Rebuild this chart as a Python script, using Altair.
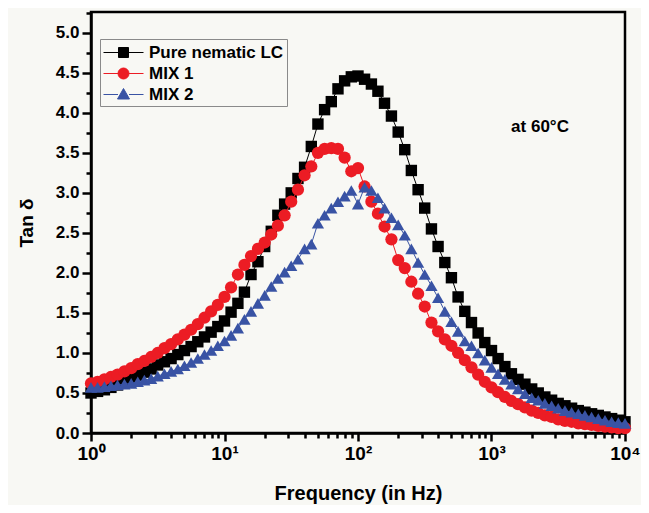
import altair as alt
import pandas as pd

# ---------------- data ----------------
freq = [1.00, 1.12, 1.26, 1.41, 1.58, 1.78, 2.00, 2.24, 2.51, 2.82,
        3.16, 3.55, 3.98, 4.47, 5.01, 5.62, 6.31, 7.08, 7.94, 8.91,
        10.0, 11.2, 12.6, 14.1, 15.8, 17.8, 20.0, 22.4, 25.1, 28.2,
        31.6, 35.5, 39.8, 44.7, 50.1, 56.2, 63.1, 70.8, 79.4, 89.1,
        100, 112, 126, 141, 158, 178, 200, 224, 251, 282,
        316, 355, 398, 447, 501, 562, 631, 708, 794, 891,
        1000, 1120, 1260, 1410, 1580, 1780, 2000, 2240, 2510, 2820,
        3160, 3550, 3980, 4470, 5010, 5620, 6310, 7080, 7940, 8910, 10000]

pure_lc = [0.50, 0.52, 0.54, 0.57, 0.60, 0.64, 0.68, 0.72, 0.76, 0.80,
           0.85, 0.89, 0.93, 0.98, 1.03, 1.08, 1.14, 1.20, 1.26, 1.33,
           1.40, 1.51, 1.62, 1.76, 1.98, 2.14, 2.33, 2.52, 2.72, 2.86,
           3.00, 3.18, 3.32, 3.58, 3.86, 4.04, 4.14, 4.30, 4.40, 4.45,
           4.46, 4.42, 4.36, 4.27, 4.12, 3.96, 3.76, 3.54, 3.28, 3.04,
           2.81, 2.55, 2.33, 2.13, 1.94, 1.70, 1.52, 1.38, 1.25, 1.13,
           1.03, 0.93, 0.83, 0.74, 0.67, 0.61, 0.55, 0.50, 0.45, 0.41,
           0.37, 0.34, 0.31, 0.28, 0.26, 0.24, 0.22, 0.20, 0.18, 0.16, 0.14]

mix1 = [0.62, 0.64, 0.67, 0.70, 0.73, 0.77, 0.81, 0.86, 0.90, 0.95,
        1.00, 1.06, 1.11, 1.17, 1.23, 1.29, 1.36, 1.44, 1.52, 1.60,
        1.70, 1.82, 1.98, 2.10, 2.21, 2.30, 2.38, 2.48, 2.59, 2.72,
        2.89, 3.04, 3.22, 3.33, 3.50, 3.55, 3.56, 3.55, 3.44, 3.27,
        3.31, 3.08, 2.89, 2.74, 2.58, 2.42, 2.16, 2.06, 1.89, 1.74,
        1.58, 1.38, 1.27, 1.17, 1.09, 1.00, 0.91, 0.82, 0.73, 0.64,
        0.57, 0.51, 0.45, 0.40, 0.36, 0.32, 0.28, 0.25, 0.22, 0.20,
        0.17, 0.15, 0.14, 0.12, 0.11, 0.10, 0.09, 0.08, 0.07, 0.06, 0.06]

mix2 = [0.57, 0.57, 0.58, 0.59, 0.60, 0.61, 0.62, 0.64, 0.66, 0.68,
        0.71, 0.74, 0.77, 0.80, 0.84, 0.88, 0.93, 0.98, 1.03, 1.09,
        1.15, 1.22, 1.31, 1.42, 1.52, 1.62, 1.72, 1.83, 1.93, 2.01,
        2.09, 2.17, 2.30, 2.36, 2.62, 2.72, 2.81, 2.89, 2.96, 3.03,
        2.86, 3.07, 3.03, 2.94, 2.81, 2.69, 2.60, 2.47, 2.30, 2.13,
        1.98, 1.84, 1.69, 1.52, 1.39, 1.27, 1.15, 1.09, 1.00, 0.91,
        0.82, 0.74, 0.67, 0.61, 0.55, 0.49, 0.44, 0.41, 0.37, 0.34,
        0.31, 0.28, 0.26, 0.24, 0.22, 0.20, 0.18, 0.16, 0.14, 0.13, 0.12]

series_names = ["Pure nematic LC", "MIX 1", "MIX 2"]
series_values = [pure_lc, mix1, mix2]
series_colors = ["#000000", "#ec1c24", "#3953a4"]
marker_shapes = ["square", "circle", "triangle-up"]
marker_sizes = [130, 150, 150]
legend_symbols = [
    "M-2,0H-0.5M0.5,0H2M-0.5,-0.5H0.5V0.5H-0.5Z",
    "M-2,0H-0.55M0.55,0H2M0.55,0A0.55,0.55 0 1,1 -0.55,0A0.55,0.55 0 1,1 0.55,0Z",
    "M-2,0H-0.55M0.55,0H2M0,-0.6L0.6,0.45L-0.6,0.45Z",
]

x_ticks = [1, 2, 3, 4, 5, 6, 7, 8, 9, 10, 20, 30, 40, 50, 60, 70, 80, 90,
           100, 200, 300, 400, 500, 600, 700, 800, 900,
           1000, 2000, 3000, 4000, 5000, 6000, 7000, 8000, 9000, 10000]
y_ticks = [0.0, 0.25, 0.5, 0.75, 1.0, 1.25, 1.5, 1.75, 2.0, 2.25, 2.5, 2.75,
           3.0, 3.25, 3.5, 3.75, 4.0, 4.25, 4.5, 4.75, 5.0, 5.25]
annotation = "at 60°C"

rows = []
for name, vals in zip(series_names, series_values):
    for f, v in zip(freq, vals):
        rows.append({"freq": f, "tan": v, "series": name})
df = pd.DataFrame(rows)

# ---------------- styling ----------------
FONT = "Liberation Sans"
BG = "#f8f8f4"
xs = alt.Scale(type="log", domain=[1, 10000], nice=False)
ys = alt.Scale(domain=[0, 5.26], nice=False, zero=False)

common = dict(domainColor="black", domainWidth=2.5, tickColor="black", tickWidth=2.5,
              grid=False, labelFont=FONT, labelFontWeight="bold", labelColor="black",
              titleFont=FONT, titleFontWeight="bold", titleColor="black",
              labelOverlap=False)

x_is_major = "abs(log(datum.value)/LN10 - round(log(datum.value)/LN10)) < 0.001"
y_is_major = "abs(datum.value*2 - round(datum.value*2)) < 0.001"

x_axis = alt.Axis(values=x_ticks, orient="bottom",
                  tickSize={"condition": {"test": x_is_major, "value": 8}, "value": 5},
                  labelExpr="(" + x_is_major + ") ? '10' + ['⁰','¹','²','³','⁴'][round(log(datum.value)/LN10)] : ''",
                  labelFontSize=19, labelPadding=3, labelFlush=False,
                  title="Frequency (in Hz)", titleFontSize=20, titlePadding=20, **common)
y_axis = alt.Axis(values=y_ticks, orient="left",
                  tickSize={"condition": {"test": y_is_major, "value": 9}, "value": 5},
                  labelExpr="(" + y_is_major + ") ? format(datum.value, '.1f') : ''",
                  labelFontSize=17, labelPadding=3,
                  title="Tan δ", titleFontSize=19, titlePadding=19, **common)

X = alt.X("freq:Q", scale=xs, axis=x_axis)
Y = alt.Y("tan:Q", scale=ys, axis=y_axis)

layers = []
for i, name in enumerate(series_names):
    sub = alt.Chart(df).transform_filter(alt.datum.series == name)
    line = sub.mark_line(color=series_colors[i], strokeWidth=1).encode(x=X, y=Y)
    pts = sub.mark_point(shape=marker_shapes[i], filled=True, opacity=1,
                         color=series_colors[i], size=marker_sizes[i], strokeWidth=0).encode(x=X, y=Y)
    layers += [line, pts]

leg = alt.Legend(orient="none", legendX=9, legendY=27, title=None,
                 labelFont=FONT, labelFontSize=17, labelFontWeight="bold", labelColor="black",
                 symbolSize=400, symbolStrokeWidth=1, strokeColor="#8a8a8a",
                 fillColor=BG, padding=3, symbolOffset=10, labelOffset=15, rowPadding=2)

legend_layer = alt.Chart(df).transform_filter("false").mark_point(
    filled=True, opacity=1, strokeWidth=1).encode(
    fill=alt.Fill("series:N", scale=alt.Scale(domain=series_names, range=series_colors), legend=leg),
    stroke=alt.Stroke("series:N", scale=alt.Scale(domain=series_names, range=series_colors), legend=leg),
    shape=alt.Shape("series:N", scale=alt.Scale(domain=series_names, range=legend_symbols), legend=leg),
)

text_layer = alt.Chart(pd.DataFrame({"t": [annotation]})).mark_text(
    font=FONT, fontSize=17, fontWeight="bold", color="black", align="center", baseline="middle"
).encode(x=alt.value(449), y=alt.value(115), text="t:N")

chart = alt.layer(*layers, legend_layer, text_layer).properties(
    width=534, height=421,
    autosize=alt.AutoSizeParams(type="none"),
    padding={"left": 83, "top": 4, "right": 16, "bottom": 72},
    background=BG,
).configure_view(stroke="black", strokeWidth=2.5)

chart.save("out.html", embed_options={"renderer": "svg", "actions": False})
